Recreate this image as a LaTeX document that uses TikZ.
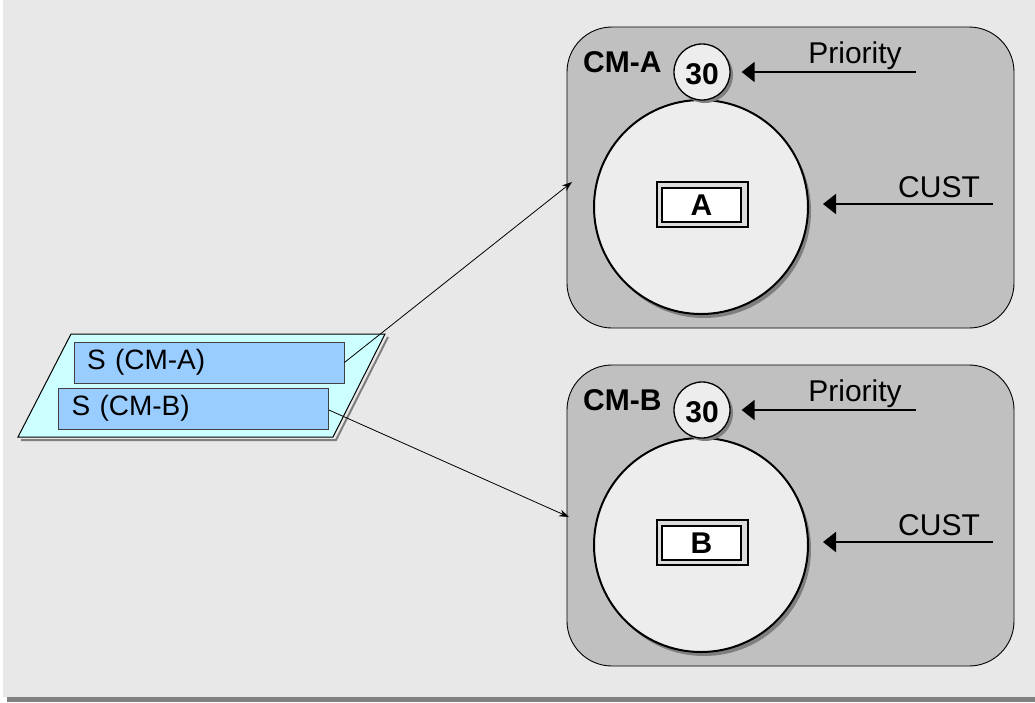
\documentclass[tikz,border=0pt]{standalone}
\usepackage{fontspec}
\setmainfont{Liberation Sans}
\usetikzlibrary{arrows.meta}
\definecolor{bgc}{HTML}{E8E8E8}
\definecolor{barc}{HTML}{808080}
\definecolor{cmfill}{HTML}{C0C0C0}
\definecolor{circfill}{HTML}{EDEDED}
\definecolor{parafill}{HTML}{CCFFFF}
\definecolor{sfill}{HTML}{99CCFF}
\definecolor{shadowc}{HTML}{7F7F7F}
\definecolor{boxouter}{HTML}{DCDCDC}
\tikzset{
  cmbox/.style={draw=black, line width=0.9pt, fill=cmfill, rounded corners=45pt,
    minimum width=447pt, minimum height=301pt, inner sep=0pt},
  bigcirc/.style={circle, draw=black, line width=2pt, fill=circfill, minimum size=214pt, inner sep=0pt},
  smallcirc/.style={circle, draw=black, line width=1.3pt, fill=circfill, minimum size=56pt, inner sep=0pt},
  shadowfill/.style={fill=shadowc},
  outbox/.style={draw=black, line width=1.2pt, fill=boxouter, minimum width=91pt, minimum height=45pt, inner sep=0pt},
  inbox/.style={draw=black, line width=1.2pt, fill=white, minimum width=79pt, minimum height=34pt, inner sep=0pt,
    font=\fontsize{30}{35}\selectfont\bfseries},
  sbox/.style={draw=black!75, line width=0.8pt, fill=sfill, minimum width=270pt, minimum height=41pt,
    text width=244pt, align=left, inner xsep=13pt, inner ysep=0pt, font=\fontsize{28}{33}\selectfont},
  lbl/.style={inner sep=0pt, font=\fontsize{30}{35}\selectfont},
  blbl/.style={inner sep=0pt, font=\fontsize{30}{35}\selectfont\bfseries},
  inarrow/.style={line width=2pt, -{Triangle[length=13pt,width=20pt]}},
  conn/.style={line width=0.8pt, -{Stealth[length=10pt,width=7pt]}}
}
\begin{document}
\begin{tikzpicture}[x=1pt,y=-1pt]
\useasboundingbox (0,0) rectangle (1035,702);
\fill[bgc] (3,0) rectangle (1035,697);
\fill[barc] (7,697) rectangle (1035,702);

% ---- parallelogram with two S boxes
\draw[shadowc, line width=2pt] (388,337) -- (336,440) -- (21,440);
\draw[black, line width=1pt, fill=parafill] (71,334) -- (385,334) -- (333,437) -- (18,437) -- cycle;
\node[sbox] (sA) at (209,362.5) {S (CM-A)};
\node[sbox] (sB) at (193.5,408.5) {S (CM-B)};

% ---- CM-A
\node[cmbox] (cmA) at (790.5,177.5) {};
\fill[shadowfill] (704,211) circle[radius=107pt];
\node[bigcirc] (cA) at (701,207) {};
\fill[shadowfill] (705,75) circle[radius=28pt];
\node[smallcirc] (pA) at (702,72) {};
\node[blbl, anchor=base] (nA) at (702,84) {30};
\node[blbl, anchor=base west] (tcmA) at (583,72) {CM-A};
\node[lbl, anchor=base] (tprA) at (855,63) {Priority};
\node[lbl, anchor=base] (tcuA) at (939,197) {CUST};
\node[outbox] (obA) at (702.5,204.5) {};
\node[inbox] (ibA) at (701.5,205) {A};
\coordinate (prA) at (916,72);
\coordinate (cuA) at (993,204);
\draw[inarrow, shorten >=11pt] (prA) -- (pA.east);
\draw[inarrow, shorten >=14pt] (cuA) -- (cA.east |- cuA);

% ---- CM-B
\node[cmbox] (cmB) at (790.5,515.5) {};
\fill[shadowfill] (704,549) circle[radius=107pt];
\node[bigcirc] (cB) at (701,545) {};
\fill[shadowfill] (705,413) circle[radius=28pt];
\node[smallcirc] (pB) at (702,410) {};
\node[blbl, anchor=base] (nB) at (702,422) {30};
\node[blbl, anchor=base west] (tcmB) at (583,410) {CM-B};
\node[lbl, anchor=base] (tprB) at (855,401) {Priority};
\node[lbl, anchor=base] (tcuB) at (939,535) {CUST};
\node[outbox] (obB) at (702.5,542.5) {};
\node[inbox] (ibB) at (701.5,543) {B};
\coordinate (prB) at (916,410);
\coordinate (cuB) at (993,542);
\draw[inarrow, shorten >=11pt] (prB) -- (pB.east);
\draw[inarrow, shorten >=14pt] (cuB) -- (cB.east |- cuB);

% ---- connectors
\coordinate (tA) at (572,182);
\coordinate (tB) at (569,517);
\draw[conn] (sA.east) -- (tA);
\draw[conn] ([yshift=-1.5pt]sB.east) -- (tB);
\end{tikzpicture}
\end{document}
